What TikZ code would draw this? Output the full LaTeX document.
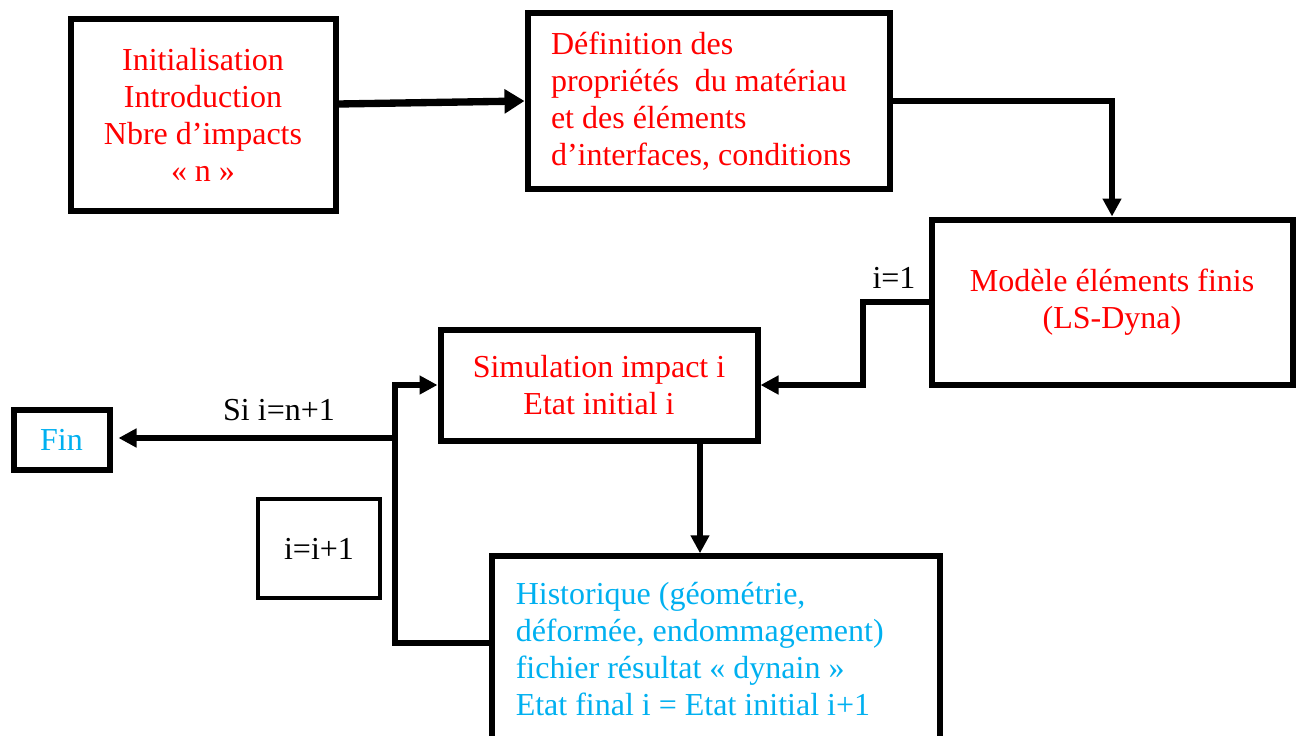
\documentclass[tikz,border=0pt]{standalone}
\usepackage{fontspec}
\setmainfont{Liberation Serif}
\usetikzlibrary{arrows.meta,calc}
\definecolor{wred}{HTML}{FF0000}
\definecolor{wblue}{HTML}{00B0F0}
\begin{document}
\begin{tikzpicture}[x=0.75pt,y=-0.75pt,
  txt/.style={font=\fontsize{24pt}{27.75pt}\selectfont},
  box/.style={draw=black,line width=4.5pt,rectangle,inner sep=0pt,txt},
  thinbox/.style={draw=black,line width=3pt,rectangle,inner sep=0pt,txt},
  conn/.style={draw=black,line width=4.1pt,-{Triangle[length=13.5pt,width=13.5pt]}},
  bigconn/.style={draw=black,line width=5.5pt,-{Triangle[length=15pt,width=17.5pt]}}]
\useasboundingbox (0,0) rectangle (1301,735);
\clip (0,0) rectangle (1301,735);

% boxes
\node[box,minimum width=265*0.75pt,minimum height=191*0.75pt,text=wred,align=center]
  (b1) at (203,115) {Initialisation\\Introduction\\Nbre d’impacts\\« n »};
\node[box,minimum height=175*0.75pt,inner xsep=23.5*0.75pt,text width=315*0.75pt,text=wred,align=flush left]
  (b2) at (708.5,101) {Définition des\\propriétés\ \ du matériau\\et des éléments\\d’interfaces, conditions};
\node[box,minimum width=361*0.75pt,minimum height=165*0.75pt,text=wred,align=center]
  (b3) at (1112,302) {Modèle éléments finis\\(LS-Dyna)};
\node[box,minimum width=317*0.75pt,minimum height=111*0.75pt,text=wred,align=center]
  (sim) at (599,385) {Simulation impact i\\Etat initial i};
\node[box,minimum width=96*0.75pt,minimum height=60*0.75pt,text=wblue]
  (fin) at (61.5,439.5) {Fin};
\node[thinbox,minimum width=122*0.75pt,minimum height=99*0.75pt]
  (inc) at (319,548.5) {i=i+1};
\node[box,anchor=north west,inner xsep=23.5*0.75pt,inner ysep=26*0.75pt,text width=401*0.75pt,text=wblue,align=flush left]
  (hist) at (489.25,553.25) {Historique (géométrie,\\déformée, endommagement)\\fichier résultat « dynain »\\Etat final i = Etat initial i+1};

% labels
\node[txt,inner sep=0pt] (l1) at (894,278) {i=1};
\node[txt,inner sep=0pt] (l2) at (279,410) {Si i=n+1};

% helper coordinates
\coordinate (s1) at (0,104);
\coordinate (c1) at (863,385);
\coordinate (hx) at (700,0);
\coordinate (hin) at (0,643);
\coordinate (jx) at (395,385);
\coordinate (br) at (395,438);

% connectors
\draw[bigconn] (b1.east |- s1) -- (b2.west);
\draw[conn] (b2.east) -| (b3.north);
\draw[conn] (b3.west) -| (c1) -- (sim.east);
\draw[conn] (sim.south -| hx) -- (hist.north -| hx);
\draw[conn] (hist.west |- hin) -| (jx) -- (sim.west);
\draw[conn,shorten >=4.5pt] (br) -- (fin.east |- br);
\end{tikzpicture}
\end{document}
